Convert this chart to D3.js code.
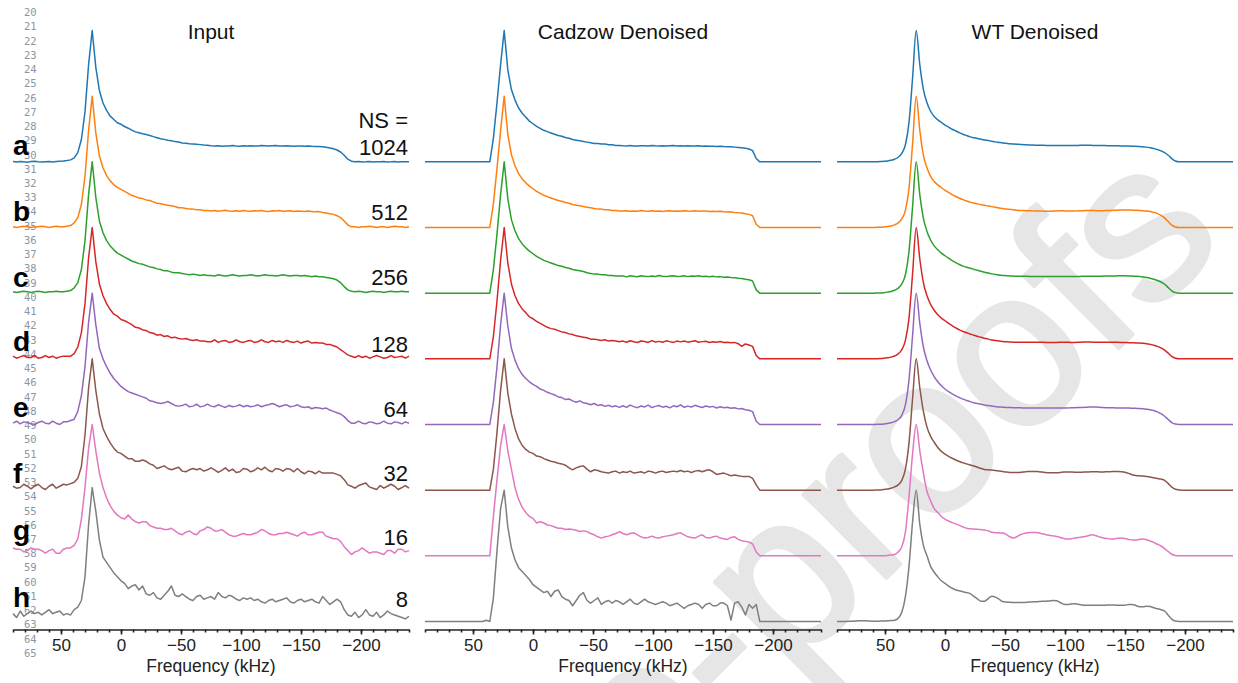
<!DOCTYPE html>
<html>
<head>
<meta charset="utf-8">
<script src="https://cdn.jsdelivr.net/npm/d3@7"></script>
<style>
  html, body { margin: 0; padding: 0; background: #fff; }
  svg { display: block; }
</style>
</head>
<body>
<svg id="chart" width="1238" height="683"></svg>
<script>
// ---- Frequency grid (kHz), shared by every spectrum ----
const freqKHz = [
  90,87,84,81,78,75,72,69,66,63,60,57,54,51,48,
  45,42,39,36,33,30,27,24,
  21,18,15,12,9,6,3,0,-3,-6,-9,-12,-15,-18,-21,-24,
  -27,-30,-33,-36,-39,-42,-45,-48,-51,-54,-57,-60,-63,-66,-69,-72,
  -75,-78,-81,-84,-87,-90,-93,-96,-99,-102,-105,-108,-111,-114,-117,-120,
  -123,-126,-129,-132,-135,-138,-141,-144,-147,-150,-153,-156,-159,-162,-165,
  -168,-171,-174,-177,-180,-183,-186,-189,-192,
  -195,-198,-201,-204,-207,-210,-213,-216,-219,-222,-225,-228,-231,-234,-237,-240
];

// ---- Labels ----
const panelTitles = ["Input", "Cadzow Denoised", "WT Denoised"];
const traceLetters = ["a", "b", "c", "d", "e", "f", "g", "h"];
const nsLabels = ["1024", "512", "256", "128", "64", "32", "16", "8"];
const majorTicks = [50, 0, -50, -100, -150, -200];
const minorTicks = [90,80,70,60,50,40,30,20,10,0,-10,-20,-30,-40,-50,-60,-70,-80,-90,-100,
  -110,-120,-130,-140,-150,-160,-170,-180,-190,-200,-210,-220,-230,-240];

// ---- Input spectra (intensity, % of peak) ----
const inA = [
  0.2,-0.2,0.3,0,-0.3,0.2,0.4,0,-0.2,0.1,0.3,-0.1,0.2,0.5,0.6,
  1,1.5,3,7,17,38,74,100,
  72,54.3,44.8,39.2,34.8,32.2,29.8,28.6,26.9,25.6,24.1,22.8,22.1,21.4,20.8,20.1,
  19.2,18.4,17.6,17.1,16.4,16.1,15.4,15.1,14.4,14.2,13.8,13.6,13.4,13.1,12.8,12.7,
  12.3,12,12.2,11.8,12,12.1,12.4,12,11.9,12.2,12,12.3,12.1,12,12.4,12.2,
  12,12.3,12.5,12.1,12,12.2,12,11.8,12.1,12,11.9,12,11.8,11.7,11.6,
  11.4,11.1,10.6,10,9,7.5,5,2,0.5,
  0,0.2,-0.1,0,0.2,-0.2,0.1,0,0.3,-0.1,0,0.2,-0.2,0,0.1,0
];
const inB = [
  0.5,0,0.5,1,0.5,0,0.5,0.5,1,0.5,0,0.5,1,0.5,0.5,
  1,1.5,3.5,7.5,17.5,39,74,100,
  72,54.5,45.5,39.5,35.5,32.5,30.5,29,27.5,26,24.5,23.5,22.5,22,21,20.5,
  19.5,18.5,18,17.5,17,16.5,16,15,15,14.5,14,14,13.5,13.5,13,13,
  12.6,12.9,12.4,12.7,13.1,12.5,12.3,12.8,12.4,13,12.6,12.3,12.8,12.5,12.9,12.4,
  12.2,12.7,12.5,13,12.4,12.6,12.8,12.2,12.6,12.4,12.1,12.5,12.2,11.9,12.1,
  11.5,11,10.5,10,9,7.5,5,2,0.5,
  0.5,0,0.5,0.5,1,0.5,0,0.5,0.5,0,0.5,1,0.5,0.5,0,0.5
];
const inC = [
  1,0.5,1,1.5,1,0.5,1,1.5,1,0.5,1,1,1.5,1,1,
  1.5,2,4,8,18,40,75,100,
  73,55,46,40,36,33,30.5,29,27.5,26,24.5,23.5,22.5,22,21,20,
  19.5,18.5,18,17,17,16,15.5,15.5,15,14.5,14,14.5,14,13.5,14,13.5,
  13.5,13,14,13.5,13,13.5,14,13.5,13,13.5,13.5,14,13.5,13,13.5,14,
  13.5,13.5,13,13.5,14,13.5,13,13.5,13.5,13,13.5,13,12.5,13,12.5,
  12.5,12,11.5,11,10,8,5,2.5,1.5,
  1,1.5,1,0.5,1,1.5,1,1,0.5,1,1.5,1,1,1.5,1,1
];
const inD = [
  2,0.5,1.5,2.5,1,1,2.5,0.5,1,2.5,1,2,0.5,1.5,2,
  2,2,4,9,20,42,77,100,
  74,57,48,42,37.5,34,32.5,30,29,27.5,26,24,23.5,22,21.5,20,
  19.5,18,18.5,17,17.5,16,16.5,15.5,15,15.5,14.5,14,14.5,13.5,13.5,13,
  13,14.5,12.5,13.5,14,12.5,13,14.5,13,12.5,13.5,14,12.5,13,14.5,13,
  12.5,14,13,13.5,12.5,14,13,12.5,13.5,12,13,13.5,12,12.5,12,
  12,11,11,10,9,7,5,3,2,
  1,2.5,1,2,0.5,1.5,2.5,1.5,0.5,1,2.5,1,1.5,2,0.5,2
];
const inE = [
  1,2.5,0.5,2,1.5,0.5,0,1.5,2.5,1,0.5,2.5,1,0,2,
  2,3,4,10,22,44,78,100,
  76,58,50,44,39,35,32,29,27,25,24,23,22,21,20,18,
  17.5,16.5,16,16.5,17.5,16,14.5,14,14.5,15.5,13.5,14,15.5,13.5,14,15.5,
  14,13.5,15,14,13,14.5,13.5,14,15,13.5,14.5,13.5,14,15,13.5,14.5,
  15,16,15,13.5,14.5,15,13.5,14,15,13.5,13,13.5,12,13,12.5,
  12,12.5,11,10,9,8,6,3,1,
  1,2.5,1,0.5,2,1.5,0.5,1,2.5,1,0.5,2,1.5,0.5,2,1
];
const inF = [
  3,1.5,2,4.5,3,1,3,4.5,2,0.5,3,4.5,1.5,3,4.5,
  4,5,6,9,18,42,78,100,
  76,58,47,41,36,32,29,28,26,24,24,22,22,23,22,20,
  19,16.5,17.5,18.5,16.5,15.5,16.5,17.5,14.5,14,15.5,16.5,15.5,16.5,14.5,15.5,
  17,15.5,13.5,15,17,14.5,16,13.5,14,16.5,16,14,15,17,15.5,17.5,
  15,14,16.5,16,14.5,16.5,16,14,16.5,14,12.5,14.5,14,12.5,14.5,
  13,13,13,13,12,11,8,4,3,
  1.5,3.5,4.5,5.5,2.5,1.5,0.5,3.5,1.5,3,4.5,3,0.5,2,3.5,1.5
];
const inG = [
  6,5,5,3,4,6,5,5,4,2,4,5,2,2,5,
  6,6,8,13,28,52,82,100,
  80,63,52,44,38,34,31,29,28,31,28,26,25,26,26,23,
  22,21,21,20,20,21,19,17,16,18,19,17,16,19,20,22,
  21,19,19,20,18,16,15,15,16,17,16,16,17,18,20,19,
  17,16,16,17,17,18,17,16,15,17,18,16,16,17,18,
  18,15,14,13,13,11,7,4,1,
  3,4,6,4,2,3,3,2,1,4,4,2,5,5,3,4
];
const inH = [
  6,3,8,4,6,8,6,7,5,7,9,6,7,8,5,
  6,5,9,11,16,34,74,102,
  84,62,49,45,41,37,34,31,29,25,27,28,24,27,21,20,
  22,18,17,20,23,27,20,19,21,19,17,16,19,20,17,18,
  19,17,22,19,18,20,19,17,16,18,17,18,16,17,15,14,
  16,17,15,16,17,18,15,14,16,17,15,16,17,15,14,
  19,16,13,15,17,15,9,5,4,
  7,3,5,9,5,4,7,3,5,8,6,5,4,3,2,4
];

// ---- Cadzow-denoised spectra ----
const cadA = [
  0,0,0,0,0,0,0,0,0,0,0,0,0,0,0,
  0,0,0,0,18,45,74,100,
  70,55,47,41,37,34,31,29,27,25.5,24,23,22,21,20,19.5,
  18.5,18,17,16.5,16,15.5,15,14.5,14,14,13.5,13.5,13,13,12.5,12.5,
  12.2,12,12.4,12.1,12,12.3,12.2,12,12.4,12.2,12.1,12.3,12,12.2,12.4,12.1,
  12.2,12,12.3,12.1,12,12.2,11.9,12.1,11.8,11.9,11.7,11.8,11.6,11.5,11.4,
  11.2,11,10.7,10.3,9.8,8.5,2.5,0,0,
  0,0,0,0,0,0,0,0,0,0,0,0,0,0,0,0
];
const cadB = [
  0,0,0,0,0,0,0,0,0,0,0,0,0,0,0,
  0,0,0,0,18,45,74,100,
  71,55.5,47,41,37,34,31.5,29.5,27.5,26,24.5,23.5,22.5,21.5,20.5,20,
  19,18.5,17.5,17,16.5,16,15.5,15,14.5,14,14,13.5,13.5,13,13,12.5,
  12.5,12.8,12.3,12.6,12.4,12.9,12.5,12.3,12.7,12.4,12.6,12.2,12.5,12.8,12.4,12.6,
  12.3,12.7,12.5,12.4,12.8,12.3,12.5,12.6,12.2,12.4,12.1,12.3,12,11.8,11.9,
  11.5,11.2,11,10.5,10,9,2.5,0,0,
  0,0,0,0,0,0,0,0,0,0,0,0,0,0,0,0
];
const cadC = [
  0,0,0,0,0,0,0,0,0,0,0,0,0,0,0,
  0,0,0,0,18,45,75,100,
  72,56,47.5,41.5,37.5,34.5,32,30,28,26.5,25,24,23,22,21,20.5,
  19.5,19,18,17.5,17,16.5,15.5,15,14.5,14.5,14,14,13.5,13.5,13,13,
  13,12.4,13.2,12.8,12.5,13.3,12.9,12.6,13.1,12.7,13.4,12.8,12.6,13,13.3,12.7,
  12.9,13.2,12.6,13,12.8,13.3,12.7,12.9,12.5,12.8,12.4,12.6,12.2,12.3,11.9,
  11.8,11.3,11.1,10.6,10.2,9.3,2.5,0,0,
  0,0,0,0,0,0,0,0,0,0,0,0,0,0,0,0
];
const cadD = [
  0,0,0,0,0,0,0,0,0,0,0,0,0,0,0,
  0,0,0,0,17,44,75,100,
  73,57,48,42,38,35,32,30.5,28.5,27,25.5,24,23,22.5,21.5,20.5,
  20,19,18.5,17.5,17,16.5,16,15,15,14.5,14,14.5,13.5,14,13.5,13,
  13.5,12.6,13.8,13,12.4,13.6,13.2,12.5,13.9,12.8,13.3,12.6,13.7,13.1,12.5,13.5,
  12.9,13.6,12.7,13.2,13.8,12.6,13.1,13.4,12.5,13,12.7,13.2,12.4,12.6,12.2,
  12.5,11.5,9.5,11.3,10.5,9.5,2.5,0,0,
  0,0,0,0,0,0,0,0,0,0,0,0,0,0,0,0
];
const cadE = [
  0,0,0,0,0,0,0,0,0,0,0,0,0,0,0,
  0,0,0,0,17,44,76,100,
  75,58,49,42.5,38,35,32.5,30.5,29,27,26,24.5,23.5,22.5,21,20.5,
  19,19.5,18,17,18,16.5,16,15,16,14.5,15,13.8,14.6,13.5,14.2,13,
  14.3,13,14.8,13.6,12.8,14.1,13.4,14.7,12.9,13.8,14.5,13.2,13.9,12.7,14.2,13.5,
  15,13.1,14,13.3,14.6,13.7,12.9,14.1,13.4,13.8,12.6,13.5,12.8,13.2,12.4,
  12.7,11.9,12.2,11.2,10.8,9.8,2.5,0,0,
  0,0,0,0,0,0,0,0,0,0,0,0,0,0,0,0
];
const cadF = [
  0,0,0,0,0,0,0,0,0,0,0,0,0,0,0,
  0,0,0,0,16,44,76,100,
  74,58,47,39,34,31,29,28,26,25.5,24,23,22,21.5,20.5,20,
  19,17,15.5,17,18,18.5,16,14,15.5,15,14,13.5,13,14,14.5,13,
  14,13.5,14.5,13,13.5,14,13,14.5,14,13,14,14.5,13.5,14,14.5,14,
  15,14,14.5,13.5,14.5,15,14,15,15.5,14,12,12.5,13,12,11,
  11.5,11,10.5,10.5,10.5,9,4,0,0,
  0,0,0,0,0,0,0,0,0,0,0,0,0,0,0,0
];
const cadG = [
  0,0,0,0,0,0,0,0,0,0,0,0,0,0,0,
  0,0,0,0,30,58,84,100,
  80,66,52,43,37,33,30,28.5,25,26,25,23.5,23,22,21,21,
  20,20.5,20,19.5,18.5,19,18.5,17,16,14.5,13.5,14.5,15,16,17,18.5,
  17,16,17,17.5,16,14.5,13.5,14,15,14,13.5,14.5,15,15.5,16,17,
  17.5,16,14.5,14,13.5,15,16,14,13.5,14.5,15,13.5,13,12.5,14,
  14.5,12.5,11.5,11,10.5,9,3,0,0,
  0,0,0,0,0,0,0,0,0,0,0,0,0,0,0,0
];
const cadH = [
  0,0,0,0,0,0,0,0,0,0,0,0,0,0,0,
  0,0,1,0,18,54,86,100,
  72,56,47,41,38,35,32,28,26,24,22,23,19,23,24,19,
  17,16,12,16,20,22,16,14,16,18,13,15,16,14,16,15,
  13,15,17,14,13,15,17,15,14,13,14,15,14,12,13,14,
  12,10,12,13,14,13,10,13,14,12,12,14,14,12,1,
  14,15,11,5,13,10,13,0,0,
  0,0,0,0,0,0,0,0,0,0,0,0,0,0,0,0
];

// ---- WT-denoised spectra ----
const wtA = [
  0,0,0,0,0,0,0,0,0,0,0,0.1,0.2,0.4,0.7,
  1.2,2,3.5,6.5,13,30,64,100,
  74,55,45,38.5,34.5,32,30,28,26.5,24.8,23.5,22.2,21,20,19,18.4,
  17.8,17.2,16.7,16.2,15.7,15.2,14.8,14.4,14.1,13.8,13.6,13.4,13.2,13,12.9,12.8,
  12.7,12.6,12.6,12.5,12.5,12.5,12.5,12.5,12.5,12.5,12.5,12.5,12.5,12.6,12.6,12.6,
  12.5,12.5,12.4,12.4,12.3,12.3,12.2,12.2,12.1,12,12,11.9,11.8,11.6,11.4,
  11.2,10.8,10.2,9.3,8.3,7,5,2.5,0.6,
  0,0,0,0,0,0,0,0,0,0,0,0,0,0,0,0
];
const wtB = [
  0,0,0,0,0,0,0,0,0,0,0,0.1,0.2,0.4,0.7,
  1.2,2,3.5,6.5,13,30,64,100,
  74,55,45.5,39,35,32.5,30.3,28.3,26.7,25,23.6,22.3,21.2,20.2,19.3,18.6,
  18,17.4,16.9,16.4,15.9,15.4,14.9,14.5,14.1,13.8,13.5,13.2,13,12.9,12.8,12.7,
  12.6,12.6,12.5,12.4,12.4,12.5,12.6,12.7,12.7,12.6,12.6,12.6,12.7,12.8,12.9,12.9,
  12.9,12.8,12.8,12.8,12.9,13,13.1,13.2,13.3,13.3,13.3,13.2,13.1,13,12.8,
  12.5,12.1,11.5,10.6,9.3,7.3,4.5,1.8,0.4,
  0,0,0,0,0,0,0,0,0,0,0,0,0,0,0,0
];
const wtC = [
  0,0,0,0,0,0,0,0,0,0,0,0.1,0.2,0.4,0.8,
  1.3,2.2,3.8,7,14,32,66,100,
  75,57,47,40.5,36,33,30.5,28.5,26.6,24.8,23.2,21.8,20.6,19.7,19,18.2,
  17.4,16.7,16,15.3,14.7,14.2,13.8,13.5,13.3,13.1,13,12.9,12.9,12.8,12.8,12.7,
  12.7,12.6,12.6,12.6,12.6,12.7,12.7,12.7,12.6,12.6,12.6,12.7,12.7,12.8,12.8,12.8,
  12.8,12.9,12.9,13,13,13.1,13.1,13.2,13.2,13.2,13.1,13,12.9,12.7,12.4,
  12,11.4,10.6,9.7,8.5,6.8,4.3,1.8,0.4,
  0,0,0,0,0,0,0,0,0,0,0,0,0,0,0,0
];
const wtD = [
  0,0,0,0,0,0,0,0,0,0,0,0.1,0.2,0.4,0.8,
  1.3,2.2,3.8,7,14,31,65,100,
  76,58,48,41.5,37,33.5,31,29,27,25.2,23.5,22,20.8,19.8,18.9,18,
  17.2,16.4,15.7,15,14.4,13.9,13.5,13.2,13,12.8,12.7,12.6,12.6,12.6,12.6,12.6,
  12.6,12.6,12.6,12.5,12.5,12.5,12.5,12.6,12.7,12.6,12.5,12.5,12.6,12.7,12.8,12.8,
  12.7,12.6,12.6,12.6,12.6,12.7,12.7,12.6,12.5,12.4,12.3,12.2,12.1,12,11.8,
  11.5,11,10.4,9.5,8.3,6.6,4.3,1.8,0.4,
  0,0,0,0,0,0,0,0,0,0,0,0,0,0,0,0
];
const wtE = [
  0,0,0,0,0,0,0,0,0,0,0,0.1,0.2,0.4,0.8,
  1.3,2.2,3.8,7,15,34,68,100,
  77,59,48.5,41.5,36.5,32.5,29.5,27,25,23.3,21.8,20.5,19.3,18.3,17.4,16.6,
  16,15.4,14.9,14.4,14,13.7,13.4,13.2,13,12.9,12.8,12.7,12.7,12.6,12.6,12.6,
  12.6,12.6,12.5,12.5,12.5,12.6,12.6,12.6,12.6,12.6,12.7,12.8,12.9,13,13.1,13.3,
  13.4,13.3,13.1,12.9,12.8,12.7,12.7,12.6,12.6,12.5,12.5,12.4,12.3,12.2,12,
  11.7,11.3,10.6,9.6,8.2,6.3,3.8,1.5,0.3,
  0,0,0,0,0,0,0,0,0,0,0,0,0,0,0,0
];
const wtF = [
  0,0,0,0,0,0,0,0,0,0,0,0.1,0.2,0.5,0.9,
  1.5,2.5,4,7.5,16,36,70,100,
  78,60,48,41,36.5,32.5,29.5,27.5,25.8,24.3,23,21.8,20.8,20,19.2,18.4,
  17.5,16.5,15.8,15.5,15.3,15,14.6,14.2,13.8,13.5,13.4,13.4,13.6,13.9,14.2,14.3,
  14.3,14.1,13.8,13.5,13.3,13.2,13.3,13.5,13.8,13.9,13.8,13.7,13.7,13.7,13.8,13.9,
  14,14,13.9,13.9,14,14.1,14.2,14.2,14,13.6,12.8,11.8,11.2,10.9,10.7,
  10.4,10,9.4,8.9,8.4,7.5,5,2.3,0.7,
  0.2,0,0,0,0,0,0,0,0,0,0,0,0,0,0,0
];
const wtG = [
  0,0,0,0,0,0,0,0,0,0,0,0,0,0,0.3,
  0.6,1,3,7,18,45,78,100,
  80,63,49,42,36,33,30,28,26.5,25.3,24.3,23.2,22,21,20.6,20.4,
  20.2,20,19.7,19,18,17.6,17.5,17.4,16.3,14.5,13.6,14.6,16.2,17,17.5,17.7,
  17.8,17.5,16.8,16.1,15.6,15.2,14.8,14,13.2,12.8,13,13.5,13.9,14.3,14.8,15.5,
  16,15.3,14.3,13.6,13.2,12.9,12.9,13.3,13.6,13.2,12.5,12,12,12.5,12.8,
  12.2,11.3,10.2,8.8,7.5,5.5,3.3,1.2,0.2,
  0,0,0,0,0,0,0,0,0,0,0,0,0,0,0,0
];
const wtH = [
  0,0,0,0.1,0.2,0.3,0.5,0.6,0.5,0.3,0.2,0.2,0.3,0.4,0.5,
  0.7,1,2.5,7,19,42,76,100,
  74,58,50,42,37.5,34,31,29,27,25.3,24,23.4,22.6,22,21.2,19.2,
  17.2,15.5,15.5,17.5,19.3,18.6,17,15.2,14.8,14.6,14.5,14.4,14.4,14.5,14.7,14.9,
  15,15.2,15.4,15.5,15.6,16,15.8,14.5,13.2,12.9,13.4,13.6,13.1,12.6,12.4,12.4,
  12.4,12.4,12.3,12.3,12.5,12.6,12.5,12.4,12.3,12.4,12.9,13,12.2,11.3,11.2,
  11.6,11.4,10.4,9.7,9,8,4.8,1.8,0.3,
  0,0,0,0,0,0,0,0,0,0,0,0,0,0,0,0
];

// ---- Panel definitions built from the arrays above ----
const panels = [
  { title: panelTitles[0], traces: [inA, inB, inC, inD, inE, inF, inG, inH], curve: d3.curveLinear },
  { title: panelTitles[1], traces: [cadA, cadB, cadC, cadD, cadE, cadF, cadG, cadH], curve: d3.curveLinear },
  { title: panelTitles[2], traces: [wtA, wtB, wtC, wtD, wtE, wtF, wtG, wtH], curve: d3.curveMonotoneX }
];

// ---- Layout ----
const panelLeft = [13, 425, 837];
const panelWidth = 396;
const stackStep = 50;              // vertical offset between stacked spectra (% units)
const axisY = 629.5;
const traceColors = d3.schemeCategory10;
const fontSans = "'Liberation Sans', Arial, Helvetica, sans-serif";

// y: stacked intensity (bottom spectrum baseline at 0, top spectrum peak at 450)
const y = d3.scaleLinear().domain([0, 450]).range([621.5, 30.5]);

const svg = d3.select("#chart");

// Watermark behind everything
svg.append("text")
  .attr("transform", "translate(1228,240) rotate(-44.7)")
  .attr("text-anchor", "end")
  .attr("font-family", fontSans)
  .attr("font-size", 223)
  .attr("fill", "#e6e6e6")
  .attr("stroke", "#e6e6e6")
  .attr("stroke-width", 4)
  .attr("stroke-linejoin", "round")
  .text("Journal Pre-proofs");

// Margin line numbers
const lineNums = d3.range(20, 66);
svg.append("g")
  .selectAll("text")
  .data(lineNums)
  .join("text")
  .attr("x", 24)
  .attr("y", d => 12.3 + (d - 20) * 14.24 + 3.8)
  .attr("font-family", "'DejaVu Sans Mono', monospace")
  .attr("font-size", 10.5)
  .attr("fill", "#8b95a5")
  .text(d => d);

panels.forEach((p, pi) => {
  const x = d3.scaleLinear()
    .domain([90, -240])
    .range([panelLeft[pi], panelLeft[pi] + panelWidth]);
  const g = svg.append("g");

  p.traces.forEach((vals, k) => {
    const off = (7 - k) * stackStep;
    const line = d3.line()
      .x((d, i) => x(freqKHz[i]))
      .y(d => y(d + off))
      .curve(p.curve);
    g.append("path")
      .datum(vals)
      .attr("d", line)
      .attr("fill", "none")
      .attr("stroke", traceColors[k])
      .attr("stroke-width", 1.5)
      .attr("stroke-linejoin", "round");
  });

  // minor ticks every 10 kHz
  const minorAxis = g.append("g")
    .attr("transform", `translate(0,${axisY})`)
    .call(d3.axisBottom(x).tickValues(minorTicks).tickSize(3).tickSizeOuter(0).tickFormat(""));
  minorAxis.select(".domain").attr("stroke", "#222").attr("stroke-width", 1.6);
  minorAxis.selectAll(".tick line").attr("stroke", "#222").attr("stroke-width", 1.6);

  // major ticks with labels
  const majorAxis = g.append("g")
    .attr("transform", `translate(0,${axisY})`)
    .call(d3.axisBottom(x).tickValues(majorTicks).tickSize(5).tickSizeOuter(0).tickPadding(4.5));
  majorAxis.select(".domain").remove();
  majorAxis.selectAll(".tick line").attr("stroke", "#222").attr("stroke-width", 1.6);
  majorAxis.selectAll(".tick text")
    .attr("font-family", fontSans)
    .attr("font-size", 17)
    .attr("fill", "#222");

  const cx = panelLeft[pi] + panelWidth / 2;
  g.append("text")
    .attr("x", cx).attr("y", 672)
    .attr("text-anchor", "middle")
    .attr("font-family", fontSans)
    .attr("font-size", 17.5)
    .attr("fill", "#222")
    .text("Frequency (kHz)");

  g.append("text")
    .attr("x", cx).attr("y", 39)
    .attr("text-anchor", "middle")
    .attr("font-family", fontSans)
    .attr("font-size", 21)
    .attr("fill", "#111")
    .text(p.title);
});

// Scan-count labels on the right of the first panel
const nsBaselines = [155, 220, 285, 351.5, 416.5, 480.5, 545, 606.5];
svg.append("text")
  .attr("x", 408).attr("y", 127.5)
  .attr("text-anchor", "end")
  .attr("font-family", fontSans)
  .attr("font-size", 22)
  .attr("fill", "#111")
  .text("NS =");
svg.append("g")
  .selectAll("text")
  .data(nsLabels)
  .join("text")
  .attr("x", 408)
  .attr("y", (d, i) => nsBaselines[i])
  .attr("text-anchor", "end")
  .attr("font-family", fontSans)
  .attr("font-size", 22)
  .attr("fill", "#111")
  .text(d => d);

// Row letters
const letterBaselines = [155, 221, 286.5, 351, 417, 483, 540, 606.5];
svg.append("g")
  .selectAll("text")
  .data(traceLetters)
  .join("text")
  .attr("x", 13)
  .attr("y", (d, i) => letterBaselines[i])
  .attr("font-family", fontSans)
  .attr("font-weight", "bold")
  .attr("font-size", 28)
  .attr("fill", "#000")
  .text(d => d);
</script>
</body>
</html>
